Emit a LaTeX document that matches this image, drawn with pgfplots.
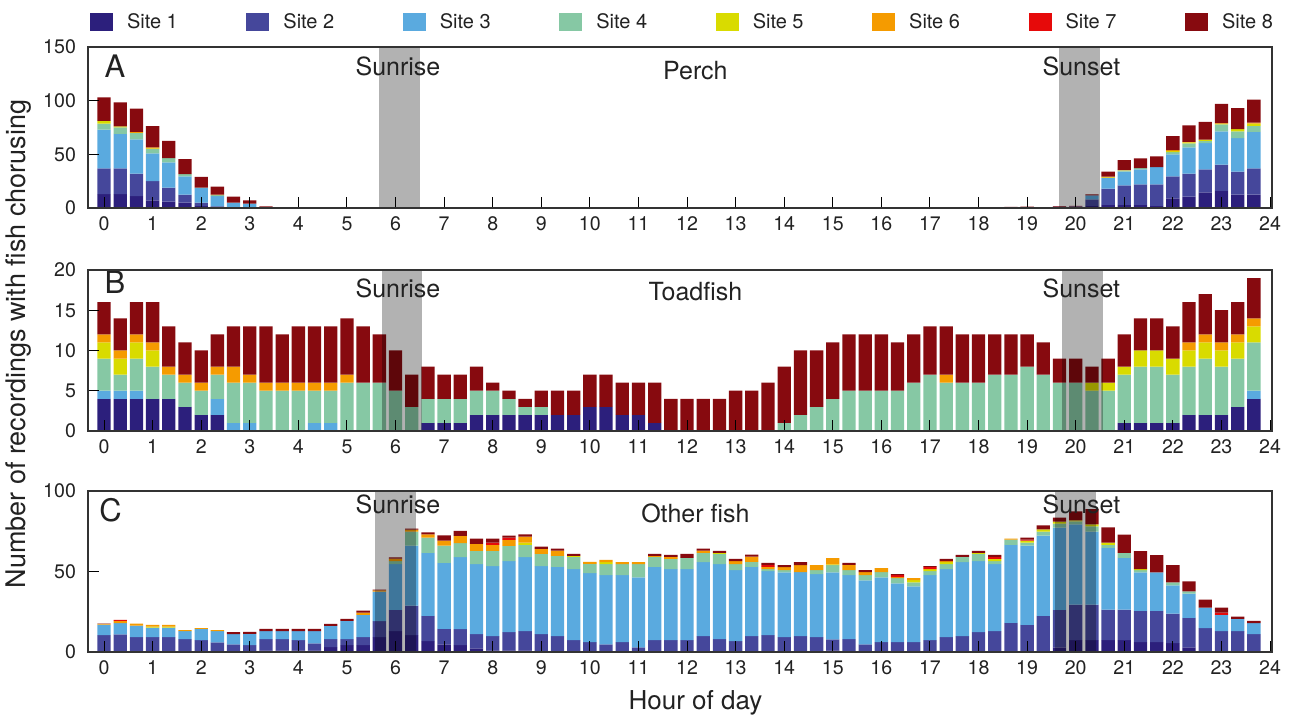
\documentclass[border=0pt]{standalone}
\usepackage{pgfplots}
\usepackage{pgfplotstable}
\usepackage{fontspec}
\setmainfont{TeX Gyre Heros}
\pgfplotsset{compat=1.18}

\definecolor{site1}{HTML}{2C1F7C}
\definecolor{site2}{HTML}{45479B}
\definecolor{site3}{HTML}{5AAADF}
\definecolor{site4}{HTML}{86C8A4}
\definecolor{site5}{HTML}{D9DB00}
\definecolor{site6}{HTML}{F59B00}
\definecolor{site7}{HTML}{E60A0A}
\definecolor{site8}{HTML}{870A0F}
\definecolor{txt}{HTML}{222222}

% k = index of the 20-minute bin (hour = k/3); columns = recordings per site
\pgfplotstableread{
k  s1   s2   s3   s4   s5   s6   s7   s8
0  13   24   36   5.6  2.5  0    0    22
1  13   24   32   6    1    0    0    22.5
2  11   21   32   6    0    1    0    21.5
3  7    18   26   4    0.5  1    0    19.7
4  6    13   23.5 4    0    0    0    16
5  5    7.5  17   2    0    0    0    14
6  2    3    13.5 0.5  0    0    0    10
7  1.5  0    9.5  1    0    0.5  0    7.5
8  0    0    5    0    0    0    0    5.6
9  0    0    4    0    0    0    0    3
10 0    0    0    0    0    0    0    1.5
16 0    0    0    0    0    0    0    0.6
56 0    0    0    0    0    0    0    1
57 0    0    0    0    0    0    1.2  0.3
59 0    1.2  0    0    0    0    0    0.6
60 0    1.5  0    0    0    0    0    0.5
61 2    6    3.7  0    0    0    0    1
62 3    15   10   0    0.5  0.7  0    4.7
63 3    18   13   1    0    0.5  0    9
64 3    19   14   1.2  0    0    0    9
65 2    20   16   0    0    0    0    10
66 9    20.5 20.5 2    1    1    0    13
67 10.5 21.5 24.5 3.7  1    0.3  0    15.5
68 14.5 21.5 24.5 2    1.2  0    0    16.5
69 16   24.5 31   6.5  0.5  0.5  0    18
70 12.5 21.5 31   6.5  2    0    0    19.5
71 12.5 24.5 34   5.5  2    1    0    21.5
}\perch

\pgfplotstableread{
k  s1 s2 s3 s4 s5 s6 s7 s8
0  4  0  1  4  2  1  0  4
1  4  0  1  2  2  1  0  4
2  4  0  1  4  2  1  0  4
3  4  0  0  4  2  1  0  5
4  4  0  0  3  0  1  0  5
5  3  0  0  3  0  1  0  4
6  2  0  0  3  0  1  0  4
7  2  0  2  3  0  1  0  4
8  0  0  1  5  0  2  0  5
9  0  0  1  5  0  1  0  6
10 0  0  0  5  0  1  0  7
11 0  0  0  5  0  1  0  6
12 0  0  0  5  0  1  0  7
13 0  0  1  4  0  1  0  7
14 0  0  1  4  0  1  0  7
15 0  0  0  6  0  1  0  7
16 0  0  0  6  0  0  0  7
17 0  0  0  6  0  0  0  6
18 0  0  0  5  0  0  0  5
19 0  0  0  3  0  0  0  4
20 1  0  0  3  0  0  0  4
21 1  0  0  3  0  0  0  3
22 1  0  0  3  0  0  0  3
23 2  0  0  3  0  0  0  3
24 2  0  0  3  0  0  0  1
25 2  0  0  2  0  0  0  1
26 2  0  0  1  0  0  0  1
27 2  0  0  1  0  0  0  2
28 2  0  0  0  0  0  0  3
29 2  0  0  0  0  0  0  3
30 3  0  0  0  0  0  0  4
31 3  0  0  0  0  0  0  4
32 2  0  0  0  0  0  0  4
33 2  0  0  0  0  0  0  4
34 1  0  0  0  0  0  0  5
35 0  0  0  0  0  0  0  4
36 0  0  0  0  0  0  0  4
37 0  0  0  0  0  0  0  4
38 0  0  0  0  0  0  0  4
39 0  0  0  0  0  0  0  5
40 0  0  0  0  0  0  0  5
41 0  0  0  0  0  0  0  6
42 0  0  0  1  0  0  0  7
43 0  0  0  2  0  0  0  8
44 0  0  0  3  0  0  0  7
45 0  0  0  4  0  0  0  7
46 0  0  0  5  0  0  0  7
47 0  0  0  5  0  0  0  7
48 0  0  0  5  0  0  0  7
49 0  0  0  5  0  0  0  6
50 0  0  0  6  0  0  0  6
51 0  0  0  7  0  0  0  6
52 0  0  0  6  0  1  0  6
53 0  0  0  6  0  0  0  6
54 0  0  0  6  0  0  0  6
55 0  0  0  7  0  0  0  5
56 0  0  0  7  0  0  0  5
57 0  0  0  8  0  0  0  4
58 0  0  0  7  0  0  0  4
59 0  0  0  6  0  0  0  3
60 0  0  0  6  0  0  0  3
61 0  0  0  5  1  0  0  2
62 0  0  0  5  1  0  0  3
63 1  0  0  6  1  0  0  4
64 1  0  0  7  2  0  0  4
65 1  0  0  7  2  0  0  4
66 1  0  0  6  2  0  0  4
67 2  0  0  6  2  1  0  5
68 2  0  0  7  2  1  0  5
69 2  0  0  6  2  1  0  4
70 3  0  0  6  2  1  0  4
71 4  0  1  6  2  1  0  5
}\toadfish

\pgfplotstableread{
k  s1   s2   s3   s4   s5   s6   s7   s8
0  0    10.5 6.5  0    0    0.5  0    0.2
1  0    11   7    0    0    1.3  0.6  0
2  0    9.2  7.2  0    0    1.2  0    0
3  0    9.2  5.9  0    0.6  1.1  0    0
4  0    9.2  5.9  0    0.6  1.1  0    0
5  0.6  7.4  5    0    0    0.6  0    0
6  0    7.4  7    0    0    0.5  0    0
7  0    6    7    0    0    0.6  0    0
8  0.6  4.2  6.3  0    0    0    0    1.3
9  0    4.2  7    0    0    0    0    1.3
10 1    7    5    0    0    0    0    1.3
11 1    7    5    0    0    0    0    1.3
12 1    6.3  5.7  0    0    0    0    1.3
13 1    4.4  7.6  0    0    0    0    1.3
14 3    5    8.2  0    0    0    0    1.3
15 4.2  3.8  11.3 0    0    0    0    1.3
16 4.2  5    13.9 0    0    1.3  0    1.3
17 9.2  10   18.3 0    0    0.8  0    0.5
18 13   13.2 28.4 1.9  0    1.5  0    0.8
19 10.5 18.3 37.2 8.8  0    1.2  0    0.7
20 6.7  15.8 39.1 9.5  0    1.9  0    1.3
21 4.8  9.5  41   10.7 0    3.2  0    3.2
22 4.2  10   44.7 8.8  0    4.4  0    3.2
23 2.3  8.8  43.5 8.2  0    4.4  0    3.2
24 1    8.8  43.5 9.5  0    3.8  1.3  2.5
25 1    11.3 44.1 9.5  0    3.8  1.3  1.3
26 1    12   46   7.6  1.3  3.8  0    1.3
27 0    11.1 42.2 7.6  0    3.2  0    1.3
28 0    9.9  42.9 6.9  0    3.2  0    1.3
29 0    7.4  44.1 7.6  0.6  0    0    1.3
30 0    6.1  42.9 5.7  0    1.3  0    0
31 0    4.8  42.9 6.9  1.3  1.3  0    0
32 0    6.1  41.6 6.9  0    1.3  0    0
33 0    2.9  43.5 8.2  0    1.3  0    0
34 0    7.4  45.4 6.3  0    0.6  0    1.3
35 0    7.4  44.1 6.3  0    1.3  0    1.3
36 0    7.4  44.1 6.9  0    0    0    2.5
37 0    9.9  46   5.7  0    1.3  0    1.3
38 0    8    46.6 6.3  0.6  0    0    1.3
39 0    6.7  44.1 3.8  0    1.9  0    1.3
40 0    9.9  42.9 3.2  0    3.2  0    1.3
41 0    10.5 39.7 1.3  0    1.3  1.3  1.3
42 0    9.2  40.3 1.3  0    1.9  0    1.3
43 0    9.9  39.7 0    0    4.4  0    1.9
44 0    9.2  39.1 2.5  0    3.2  0    0
45 1    6.9  41.6 4.4  0.6  3.8  0    0
46 0.6  7.4  39.7 3.2  0    3.2  0    1.3
47 0    4.8  39.7 3.2  0    1.9  0    1.3
48 0    6.1  40.3 3.2  0    2.5  0    0
49 0    6.1  36.6 3.2  0    0.6  1.3  0.6
50 0    6.1  34.7 2.5  1.3  1.3  0    0
51 0    7.4  40.3 2.5  1.3  0    1.3  0.6
52 0    9.2  42.2 3.2  1.3  0.6  0    1.3
53 0    9.9  46   3.2  0    0    0    1.3
54 0    12.4 44.1 4.4  0.6  0    0    1.3
55 0    13   41.6 1.9  1.3  0    1.3  1.3
56 0    18.1 48.5 3.2  0    0.6  0    0
57 0    16.8 49.2 1.9  1.3  0    0.6  1.3
58 0    22.5 49.8 2.5  1.3  0    0    2.5
59 2.9  23.3 51   2.5  1.3  0    0    2.5
60 7.4  22   49.8 1.9  0.6  0    0    5.7
61 7.4  22   45.4 3.2  1.3  0    0    9.5
62 7.4  18.9 38.4 1.9  1.3  0    0    9.5
63 7.4  18.9 32.1 3.2  0    0    0    11.3
64 6.1  19.5 23.9 1.3  0.6  0    0    11.3
65 6.1  19.5 23.9 0    0    0    0    10.7
66 5.5  18.3 17.6 1.9  0    0    0    10.7
67 2.9  18.3 15.1 1.3  0    0    0    6.3
68 0    14.9 12.6 0    0    0    0    5
69 0.6  12.4 10.1 0    0    0    1.3  3.2
70 0.6  12.4 7.6  0    0    0    0    1.3
71 0    11.1 6.9  0    0    0    0    1.3
}\otherfish

\tikzset{
  ttl/.style={font=\fontsize{12.5}{14}\selectfont, text=txt, inner sep=0pt},
  lett/.style={font=\fontsize{15.5}{17}\selectfont, text=txt, inner sep=0pt, anchor=base west},
}

\pgfplotsset{
  panel/.style={
    width=592pt, height=80.5pt, scale only axis,
    xmin=-0.33, xmax=24.04, ymin=0,
    xtick={0,...,24},
    ybar stacked, bar width=0.274,
    reverse stacked plots=false,
    axis on top,
    tick align=inside, xtick pos=bottom, ytick pos=left,
    major tick length=5.5pt,
    tick style={black, line width=0.5pt},
    axis line style={line width=1pt, black!80},
    /pgf/number format/assume math mode=true,
    ticklabel style={font=\fontsize{9.8}{11}\selectfont, text=txt},
    xticklabel style={yshift=-1pt},
    yticklabel style={xshift=-2.5pt},
    every axis plot/.append style={draw=none},
    legend image code/.code={\fill[##1] (0pt,-4.5pt) rectangle (11.5pt,4.5pt);},
  },
  % translucent band marking the twilight hour
  dusk/.style={forget plot, sharp plot, stack plots=false, fill=black,
    fill opacity=0.3, draw=none},
}

\newcommand{\stackbars}[1]{%
  \addplot[fill=site1] table[x expr=\thisrow{k}/3, y=s1]{#1};
  \addplot[fill=site2] table[x expr=\thisrow{k}/3, y=s2]{#1};
  \addplot[fill=site3] table[x expr=\thisrow{k}/3, y=s3]{#1};
  \addplot[fill=site4] table[x expr=\thisrow{k}/3, y=s4]{#1};
  \addplot[fill=site5] table[x expr=\thisrow{k}/3, y=s5]{#1};
  \addplot[fill=site6] table[x expr=\thisrow{k}/3, y=s6]{#1};
  \addplot[fill=site7] table[x expr=\thisrow{k}/3, y=s7]{#1};
  \addplot[fill=site8] table[x expr=\thisrow{k}/3, y=s8]{#1};
}
% \band{from}{to}{top}
\newcommand{\band}[3]{%
  \addplot[dusk] coordinates {(#1,0) (#1,#3) (#2,#3) (#2,0)} -- cycle;
}

\begin{document}
\begin{tikzpicture}
\path[use as bounding box] (0pt,0pt) rectangle (650.5pt,-357.5pt);

% Panel A: perch
\begin{axis}[panel, at={(44pt,-23.5pt)}, anchor=north west,
  ymax=150, ytick={0,50,100,150},
  legend columns=8,
  legend style={at={(0.0017,1.155)}, anchor=west, draw=none, fill=none,
    inner sep=0pt, outer sep=0pt,
    nodes={inner sep=0pt, text=txt},
    font=\fontsize{10}{12}\selectfont,
    /tikz/every odd column/.append style={column sep=7pt},
    /tikz/every even column/.append style={column sep=34.3pt}},
  legend cell align=left]
\stackbars{\perch}
\legend{Site 1,Site 2,Site 3,Site 4,Site 5,Site 6,Site 7,Site 8}
\band{5.66}{6.50}{150}
\band{19.66}{20.50}{150}
\node[lett] at (rel axis cs:0.0138,0.809) {A};
\node[ttl, anchor=base] at (rel axis cs:0.2618,0.826) {Sunrise};
\node[ttl, anchor=base] at (rel axis cs:0.839,0.826) {Sunset};
\node[ttl, anchor=base] at (rel axis cs:0.513,0.801) {Perch};
\end{axis}

% Panel B: toadfish
\begin{axis}[panel, at={(44pt,-135pt)}, anchor=north west,
  ymax=20, ytick={0,5,10,15,20}]
\stackbars{\toadfish}
\band{5.72}{6.55}{20}
\band{19.72}{20.56}{20}
\node[lett] at (rel axis cs:0.0138,0.851) {B};
\node[ttl, anchor=base] at (rel axis cs:0.2618,0.832) {Sunrise};
\node[ttl, anchor=base] at (rel axis cs:0.839,0.832) {Sunset};
\node[ttl, anchor=base] at (rel axis cs:0.513,0.809) {Toadfish};
\end{axis}

% Panel C: other fish
\begin{axis}[panel, at={(44pt,-245.5pt)}, anchor=north west,
  ymax=100, ytick={0,50,100}]
\stackbars{\otherfish}
\band{5.58}{6.42}{100}
\band{19.58}{20.42}{100}
\node[lett] at (rel axis cs:0.0093,0.8125) {C};
\node[ttl, anchor=base] at (rel axis cs:0.2618,0.8625) {Sunrise};
\node[ttl, anchor=base] at (rel axis cs:0.839,0.8625) {Sunset};
\node[ttl, anchor=base] at (rel axis cs:0.513,0.806) {Other fish};
\end{axis}

% shared axis titles
\node[rotate=90, font=\fontsize{13.5}{16}\selectfont, text=txt, inner sep=0pt]
  at (9.5pt,-172pt) {Number of recordings with fish chorusing};
\node[anchor=base, font=\fontsize{13}{15}\selectfont, text=txt, inner sep=0pt]
  at (347.75pt,-354.5pt) {Hour of day};
\end{tikzpicture}
\end{document}
